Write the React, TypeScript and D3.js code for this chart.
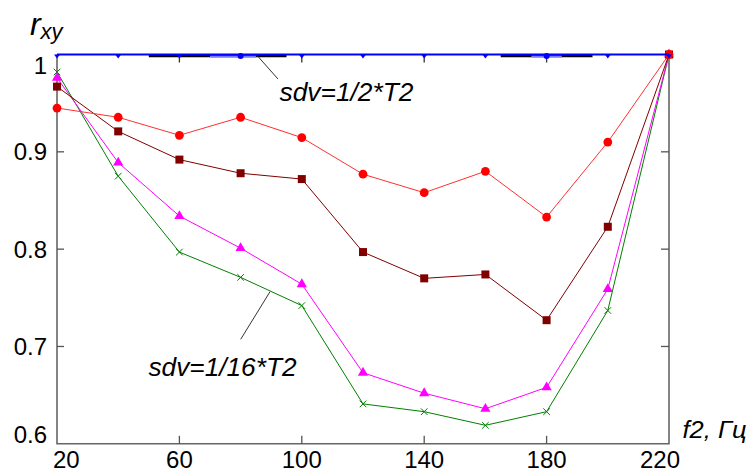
import React from "react";
import * as d3 from "d3";

const xValues = [20, 40, 60, 80, 100, 120, 140, 160, 180, 200, 220];
const redSeries = [0.945, 0.9355, 0.917, 0.9355, 0.9146, 0.877, 0.858, 0.88, 0.833, 0.91, 1.0];
const darkRedSeries = [0.967, 0.921, 0.892, 0.878, 0.872, 0.797, 0.77, 0.774, 0.727, 0.823, 1.0];
const magentaSeries = [0.976, 0.889, 0.834, 0.801, 0.764, 0.673, 0.652, 0.636, 0.658, 0.759, 1.0];
const greenSeries = [0.982, 0.875, 0.797, 0.771, 0.742, 0.641, 0.633, 0.619, 0.633, 0.737, 1.0];
const blueSeries = [1, 1, 1, 1, 1, 1, 1, 1, 1, 1, 1];
const blueCircleX = [80, 180];
const blackSegments = [[50, 95], [165, 195]];
const lightBlueSegments = [[70, 85], [175, 185]];
const xTickLabels = [20, 60, 100, 140, 180, 220];
const yTickLabels = [0.6, 0.7, 0.8, 0.9, 1];

const W = 753, H = 475;
const L = 57, R = 669, T = 54.5, B = 443.8;

export default function App() {
  const x = d3.scaleLinear().domain([20, 220]).range([L, R]);
  const y = d3.scaleLinear().domain([0.6, 1]).range([B, T]);
  const line = (vals: number[]) =>
    d3.line<number>().x((_, i) => x(xValues[i])).y((v) => y(v))(vals) || "";
  const font = "'Liberation Sans', Arial, sans-serif";
  const triUp = d3.symbol().type(d3.symbolTriangle).size(45)() || "";
  const cross = d3.symbol().type(d3.symbolX).size(30)() || "";

  return (
    <svg width={W} height={H} style={{ position: "absolute", left: 0, top: 0, background: "#fff" }}>
      <rect width={W} height={H} fill="#fff" />
      {/* frame */}
      <path d={`M${L},${T}V${B}H${R}V${T}`} fill="none" stroke="#666" strokeWidth={1.6} />
      {/* ticks */}
      {xTickLabels.slice(1, -1).map((v) => (
        <g key={"xt" + v}>
          <line x1={x(v)} x2={x(v)} y1={B} y2={B - 8} stroke="#555" strokeWidth={1.3} />
          <line x1={x(v)} x2={x(v)} y1={T} y2={T + 8} stroke="#333" strokeWidth={1.3} />
        </g>
      ))}
      {yTickLabels.slice(1, -1).map((v) => (
        <g key={"yt" + v}>
          <line x1={L} x2={L + 7} y1={y(v)} y2={y(v)} stroke="#555" strokeWidth={1.3} />
          <line x1={R} x2={R - 8} y1={y(v)} y2={y(v)} stroke="#555" strokeWidth={1.3} />
        </g>
      ))}
      {/* tick labels */}
      {xTickLabels.map((v, i) => (
        <text
          key={"xl" + v}
          x={i === 0 ? L - 4 : i === xTickLabels.length - 1 ? R + 11 : x(v)}
          y={468}
          fontFamily={font}
          fontSize={24}
          textAnchor={i === 0 ? "start" : i === xTickLabels.length - 1 ? "end" : "middle"}
          fill="#000"
        >
          {v}
        </text>
      ))}
      {yTickLabels.map((v, i) => (
        <text
          key={"yl" + v}
          x={47}
          y={i === 0 ? 443 : i === yTickLabels.length - 1 ? 73.5 : y(v) + 8.5}
          fontFamily={font}
          fontSize={24}
          textAnchor="end"
          fill="#000"
        >
          {String(v)}
        </text>
      ))}
      {/* series lines */}
      <path d={line(greenSeries)} fill="none" stroke="#008000" strokeWidth={1} />
      <path d={line(magentaSeries)} fill="none" stroke="#ff00ff" strokeWidth={1} />
      <path d={line(darkRedSeries)} fill="none" stroke="#800000" strokeWidth={1} />
      <path d={line(redSeries)} fill="none" stroke="#ff3030" strokeWidth={1} />
      {/* markers */}
      {greenSeries.map((v, i) => (
        <path key={"gm" + i} d={cross} transform={`translate(${x(xValues[i])},${y(v)})`} fill="none" stroke="#008000" strokeWidth={1} />
      ))}
      {magentaSeries.map((v, i) => (
        <path key={"mm" + i} d={triUp} transform={`translate(${x(xValues[i])},${y(v)})`} fill="#ff00ff" />
      ))}
      {darkRedSeries.map((v, i) => (
        <rect key={"dm" + i} x={x(xValues[i]) - 4} y={y(v) - 4} width={8} height={8} fill="#800000" />
      ))}
      {redSeries.map((v, i) => (
        <circle key={"rm" + i} cx={x(xValues[i])} cy={y(v)} r={4.4} fill="#ff0000" />
      ))}
      {/* near-1 series */}
      {blackSegments.map((s, i) => (
        <line key={"bs" + i} x1={x(s[0])} x2={x(s[1])} y1={T + 1.5} y2={T + 1.5} stroke="#000" strokeWidth={2.5} />
      ))}
      {lightBlueSegments.map((s, i) => (
        <line key={"lb" + i} x1={x(s[0])} x2={x(s[1])} y1={T + 2} y2={T + 2} stroke="#7a7aff" strokeWidth={2} />
      ))}
      <path d={line(blueSeries)} fill="none" stroke="#0000ff" strokeWidth={2} />
      {blueSeries.map((v, i) => (
        <path
          key={"bm" + i}
          d={`M${x(xValues[i]) - 3},${y(v)}L${x(xValues[i]) + 3},${y(v)}L${x(xValues[i])},${y(v) + 4}Z`}
          fill="#0000ff"
        />
      ))}
      {blueCircleX.map((v) => (
        <circle key={"bc" + v} cx={x(v)} cy={y(1) + 1.5} r={3} fill="#0000ff" />
      ))}
      {/* annotations */}
      <line x1={256.7} y1={55} x2={278} y2={79} stroke="#333" strokeWidth={1} />
      <text x={279.5} y={101} fontFamily={font} fontSize={25} fontStyle="italic" textLength={134} lengthAdjust="spacingAndGlyphs" fill="#000">
        sdv=1/2*T2
      </text>
      <line x1={270} y1={291.7} x2={240.7} y2={339.3} stroke="#333" strokeWidth={1} />
      <text x={148.5} y={376} fontFamily={font} fontSize={25} fontStyle="italic" textLength={148} lengthAdjust="spacingAndGlyphs" fill="#000">
        sdv=1/16*T2
      </text>
      {/* axis titles */}
      <text x={30} y={35} fontFamily={font} fontSize={32} fontStyle="italic" fill="#000">r</text>
      <text x={40.5} y={38.5} fontFamily={font} fontSize={22} fontStyle="italic" fill="#000">xy</text>
      <text x={682.5} y={438} fontFamily={font} fontSize={23} fontStyle="italic" textLength={64} lengthAdjust="spacingAndGlyphs" fill="#000">
        f2, Гц
      </text>
    </svg>
  );
}
